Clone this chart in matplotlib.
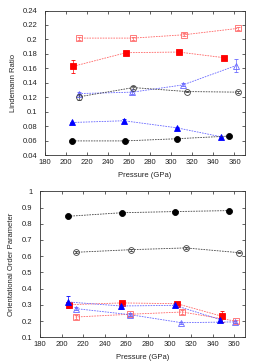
import matplotlib
matplotlib.use("Agg")
import matplotlib.pyplot as plt

plt.rcParams['font.family'] = ['Liberation Sans', 'DejaVu Sans']

# ---------------- Top panel: Lindemann ratio ----------------
top_red_open_p = [212, 264, 312, 363]
top_red_open_v = [0.2018, 0.2018, 0.2064, 0.2152]
top_red_open_e = [0.002, 0.002, 0.002, 0.002]

top_red_fill_p = [207, 257, 307, 350]
top_red_fill_v = [0.1628, 0.1816, 0.1825, 0.1747]
top_red_fill_e = [0.009, 0.002, 0.002, 0.002]

top_blue_open_p = [212, 263, 311, 361]
top_blue_open_v = [0.125, 0.127, 0.137, 0.1635]
top_blue_open_e = [0.002, 0.002, 0.002, 0.009]

top_black_open_p = [212, 264, 315, 363]
top_black_open_v = [0.1205, 0.1333, 0.1278, 0.127]
top_black_open_e = [0.004, 0.002, 0.001, 0.001]

top_blue_fill_p = [206, 255, 305, 347]
top_blue_fill_v = [0.085, 0.0874, 0.0777, 0.0653]
top_blue_fill_e = [0.001, 0.003, 0.001, 0.001]

top_black_fill_p = [206, 256, 305, 355]
top_black_fill_v = [0.0595, 0.0595, 0.0625, 0.0662]
top_black_fill_e = [0.001, 0.001, 0.001, 0.001]

# ---------------- Bottom panel: orientational order parameter ----------------
bot_black_fill_p = [206, 256, 305, 355]
bot_black_fill_v = [0.846, 0.868, 0.875, 0.881]
bot_black_fill_e = [0.003, 0.003, 0.003, 0.003]

bot_black_open_p = [213, 264, 315, 364]
bot_black_open_v = [0.624, 0.640, 0.651, 0.622]
bot_black_open_e = [0.005, 0.005, 0.005, 0.005]

bot_red_fill_p = [207, 256, 307, 349]
bot_red_fill_v = [0.301, 0.312, 0.307, 0.229]
bot_red_fill_e = [0.01, 0.01, 0.01, 0.035]

bot_red_open_p = [213, 263, 312, 362]
bot_red_open_v = [0.225, 0.242, 0.256, 0.199]
bot_red_open_e = [0.01, 0.01, 0.01, 0.01]

bot_blue_fill_p = [206, 255, 305, 347]
bot_blue_fill_v = [0.318, 0.293, 0.297, 0.209]
bot_blue_fill_e = [0.035, 0.02, 0.01, 0.01]

bot_blue_open_p = [213, 263, 311, 361]
bot_blue_open_v = [0.277, 0.240, 0.190, 0.195]
bot_blue_open_e = [0.01, 0.01, 0.005, 0.005]

xticks = [180, 200, 220, 240, 260, 280, 300, 320, 340, 360]
top_yticks = [0.04, 0.06, 0.08, 0.1, 0.12, 0.14, 0.16, 0.18, 0.2, 0.22, 0.24]
top_ylabels = ['0.04', '0.06', '0.08', '0.1', '0.12', '0.14', '0.16', '0.18', '0.2', '0.22', '0.24']
bot_yticks = [0.1, 0.2, 0.3, 0.4, 0.5, 0.6, 0.7, 0.8, 0.9, 1.0]
bot_ylabels = ['0.1', '0.2', '0.3', '0.4', '0.5', '0.6', '0.7', '0.8', '0.9', '1']

RED = '#ff0000'
RED_L = '#ff6666'
BLUE = '#0000ff'
BLUE_L = '#6666ff'
BLACK = '#000000'
GRAY = '#444444'

fig = plt.figure(figsize=(2.6, 3.64), dpi=100)
ax1 = fig.add_axes([45/260, 1-155/364, 200/260, (155-10.5)/364])
ax2 = fig.add_axes([40/260, 1-337.3/364, 205/260, (337.3-191.3)/364])

ls = (0, (2.0, 1.2))
lw = 0.6


def series(ax, p, v, e, color, lcolor, marker, filled, ms):
    ax.errorbar(p, v, yerr=e, color=lcolor, ecolor=color, elinewidth=0.5,
                capsize=1.5, capthick=0.5, linestyle=ls, linewidth=lw,
                marker=marker, markersize=ms,
                markerfacecolor=(color if filled else 'none'),
                markeredgecolor=color, markeredgewidth=0.6, zorder=3)


for ax, datasets in [
    (ax1, [
        (top_red_open_p, top_red_open_v, top_red_open_e, RED_L, RED_L, 's', False, 4.2),
        (top_red_fill_p, top_red_fill_v, top_red_fill_e, RED, RED_L, 's', True, 4.6),
        (top_blue_open_p, top_blue_open_v, top_blue_open_e, BLUE_L, BLUE_L, '^', False, 4),
        (top_black_open_p, top_black_open_v, top_black_open_e, GRAY, GRAY, 'o', False, 4.2),
        (top_blue_fill_p, top_blue_fill_v, top_blue_fill_e, BLUE, BLUE_L, '^', True, 3.8),
        (top_black_fill_p, top_black_fill_v, top_black_fill_e, BLACK, GRAY, 'o', True, 4.3),
    ]),
    (ax2, [
        (bot_black_fill_p, bot_black_fill_v, bot_black_fill_e, BLACK, GRAY, 'o', True, 4.3),
        (bot_black_open_p, bot_black_open_v, bot_black_open_e, GRAY, GRAY, 'o', False, 4.2),
        (bot_red_open_p, bot_red_open_v, bot_red_open_e, RED_L, RED_L, 's', False, 4.2),
        (bot_blue_open_p, bot_blue_open_v, bot_blue_open_e, BLUE_L, BLUE_L, '^', False, 4),
        (bot_red_fill_p, bot_red_fill_v, bot_red_fill_e, RED, RED_L, 's', True, 4.6),
        (bot_blue_fill_p, bot_blue_fill_v, bot_blue_fill_e, BLUE, BLUE_L, '^', True, 3.8),
    ]),
]:
    for d in datasets:
        series(ax, *d)

for ax in (ax1, ax2):
    ax.set_xlim(180, 370)
    ax.set_xticks(xticks)
    ax.set_xticklabels([str(t) for t in xticks])
    ax.tick_params(direction='in', length=2.5, width=0.5, labelsize=5.5,
                   top=True, right=True, colors='#222222')
    ax.tick_params(axis='x', pad=3)
    ax.tick_params(axis='y', pad=5.5)
    for s in ax.spines.values():
        s.set_linewidth(0.6)
        s.set_color('#333333')
    ax.set_xlabel('Pressure (GPa)', fontsize=5.5, labelpad=4, color='#222222')

ax1.set_ylim(0.04, 0.24)
ax1.set_yticks(top_yticks)
ax1.set_yticklabels(top_ylabels)
ax1.set_ylabel('Lindemann Ratio', fontsize=5.5, labelpad=4, color='#222222')

ax2.set_ylim(0.1, 1.0)
ax2.set_yticks(bot_yticks)
ax2.set_yticklabels(bot_ylabels)
ax2.set_ylabel('Orientational Order Parameter', fontsize=5.5, labelpad=5, color='#222222')

fig.savefig('out.png', dpi=100)
